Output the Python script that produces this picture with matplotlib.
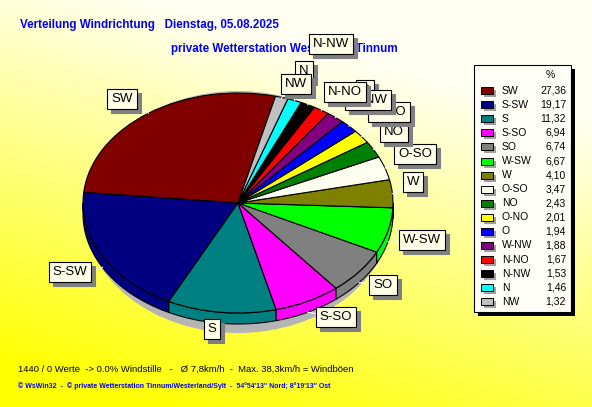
import numpy as np
import matplotlib.pyplot as plt
from matplotlib.patches import Rectangle, Polygon, Ellipse
from matplotlib.transforms import Affine2D

# Daten (Anteil je Windrichtung in %)
richtung = ['SW', 'S-SW', 'S', 'S-SO', 'SO', 'W-SW', 'W', 'O-SO',
            'NO', 'O-NO', 'O', 'W-NW', 'N-NO', 'N-NW', 'N', 'NW']
anteil = [27.36, 19.17, 11.32, 6.94, 6.74, 6.67, 4.10, 3.47,
          2.43, 2.01, 1.94, 1.88, 1.67, 1.53, 1.46, 1.32]
anteil_text = ['27,36', '19,17', '11,32', '6,94', '6,74', '6,67', '4,10', '3,47',
               '2,43', '2,01', '1,94', '1,88', '1,67', '1,53', '1,46', '1,32']
farben = ['#800000', '#000080', '#008080', '#ff00ff', '#808080', '#00ff00',
          '#808000', '#fffff0', '#008000', '#ffff00', '#0000ff', '#800080',
          '#ff0000', '#000000', '#00ffff', '#c0c0c0']

# Lage der Beschriftungskaesten (Pixel, Mitte)
label_pos = [(122, 99), (70, 272), (212, 329), (336, 317), (383, 285),
             (422, 240), (413, 182), (415, 154), (394, 132), (389, 112),
             (365, 90), (368, 100), (345, 92), (331, 44), (304, 71), (296, 84)]

W, H = 592, 407
fig = plt.figure(figsize=(W / 100, H / 100), dpi=100)
ax = fig.add_axes([0, 0, 1, 1])
ax.set_axis_off()

# Hintergrund: Verlauf gelb -> hellgelb
xx, yy = np.meshgrid(np.linspace(0, 1, 300), np.linspace(0, 1, 200))
t = np.clip(0.4 * xx + 1.0 * yy - 0.1, 0, 1)
bg = np.zeros((200, 300, 3))
bg[..., 0] = 1.0
bg[..., 1] = 1.0
bg[..., 2] = 0.95 * t
ax.imshow(bg, extent=[0, W, H, 0], aspect='auto', zorder=0)


def py(y):
    return H - y


# Torte
cx, cy = 238, py(203)
a, b, depth = 155, 110, 11
k = b / a

ax.add_patch(Ellipse((cx, py(212)), 2 * a - 2, 2 * 121, fc='#b4b4b4', ec='none', zorder=1))

wedges, _ = ax.pie(anteil, colors=farben, startangle=76, counterclock=True,
                   center=(cx, cy), radius=a,
                   wedgeprops=dict(edgecolor='black', linewidth=0.8))
squash = Affine2D().translate(-cx, -cy).scale(1, k).translate(cx, cy)
for w in wedges:
    w.set_transform(squash + ax.transData)
    w.set_zorder(3)

# Seitenflaeche (3D-Rand)
for w, c in zip(wedges, farben):
    t1 = max(w.theta1, 180)
    t2 = min(w.theta2, 360)
    if t2 <= t1:
        continue
    ts = np.radians(np.linspace(t1, t2, 60))
    top = np.column_stack([cx + a * np.cos(ts), cy + b * np.sin(ts)])
    bot = top[::-1] - [0, depth]
    ax.add_patch(Polygon(np.vstack([top, bot]), closed=True, fc=c, ec='black',
                         lw=0.8, zorder=2))

ax.set_aspect('auto')
ax.set_xlim(0, W)
ax.set_ylim(0, H)

# Beschriftungen mit Fuehrungslinien
for i, (w, name) in enumerate(zip(wedges, richtung)):
    mid = np.radians((w.theta1 + w.theta2) / 2)
    rx = cx + a * np.cos(mid)
    ry = cy + b * np.sin(mid)
    if np.sin(mid) < 0:
        ry -= depth
    lx, ly = label_pos[i]
    ax.plot([rx, lx], [ry, py(ly)], color='white', lw=0.8, zorder=4)
    z = 5 + i * 0.1
    ax.text(lx + 4, py(ly) - 4, name, fontsize=9.5, family='Liberation Sans',
            color='#808080', ha='center', va='center', zorder=z,
            bbox=dict(boxstyle='square,pad=0.3', fc='#808080', ec='#808080', lw=0.8))
    ax.text(lx, py(ly), name, fontsize=9.5, family='Liberation Sans',
            color='black', ha='center', va='center', zorder=z + 0.05,
            bbox=dict(boxstyle='square,pad=0.3', fc='#ffffe8', ec='black', lw=0.8))

# Titel
ax.text(20, py(25), 'Verteilung Windrichtung   Dienstag, 05.08.2025', fontsize=8.4,
        fontweight='bold', family='Liberation Sans', color='#0000ff', va='center', zorder=4.5)
ax.text(171, py(49), 'private Wetterstation Westerland/Tinnum', fontsize=8.4,
        fontweight='bold', family='Liberation Sans', color='#0000ff', va='center', zorder=4.5)

# Legende
ax.add_patch(Rectangle((478, py(316)), 97, 247, fc='black', ec='none', zorder=6))
ax.add_patch(Rectangle((474, py(312)), 97, 247, fc='#fffff8', ec='black', lw=0.8, zorder=7))
ax.text(550, py(75), '%', fontsize=7.5, family='Liberation Sans', ha='center',
        va='center', zorder=8)
for i, (name, val, c) in enumerate(zip(richtung, anteil_text, farben)):
    yr = 90.7 + 14.07 * i
    ax.add_patch(Rectangle((484, py(yr + 6.5)), 12, 7, fc='#a0a0a0', ec='none', zorder=8))
    ax.add_patch(Rectangle((481, py(yr + 3.5)), 12, 7, fc=c, ec='black', lw=0.7, zorder=9))
    ax.text(502, py(yr), name, fontsize=7.5, family='Liberation Sans', va='center', zorder=9)
    ax.text(566, py(yr), val, fontsize=7.5, family='Liberation Sans', va='center',
            ha='right', zorder=9)

# Fusszeilen
ax.text(18, py(369), '1440 / 0 Werte  -> 0.0% Windstille   -   \u00d8 7,8km/h  -  '
        'Max. 38,3km/h = Windb\u00f6en', fontsize=6.8, family='Liberation Sans',
        color='black', va='center', zorder=4)
ax.text(18, py(386), '\u00a9 WsWin32  -  \u00a9 private Wetterstation Tinnum/Westerland/Sylt'
        '  -  54\u00b054\'13\'\' Nord; 8\u00b019\'13\'\' Ost', fontsize=5.0,
        family='Liberation Sans', fontweight='bold', color='#0000ff', va='center', zorder=4)

fig.savefig('out.png', dpi=100)
